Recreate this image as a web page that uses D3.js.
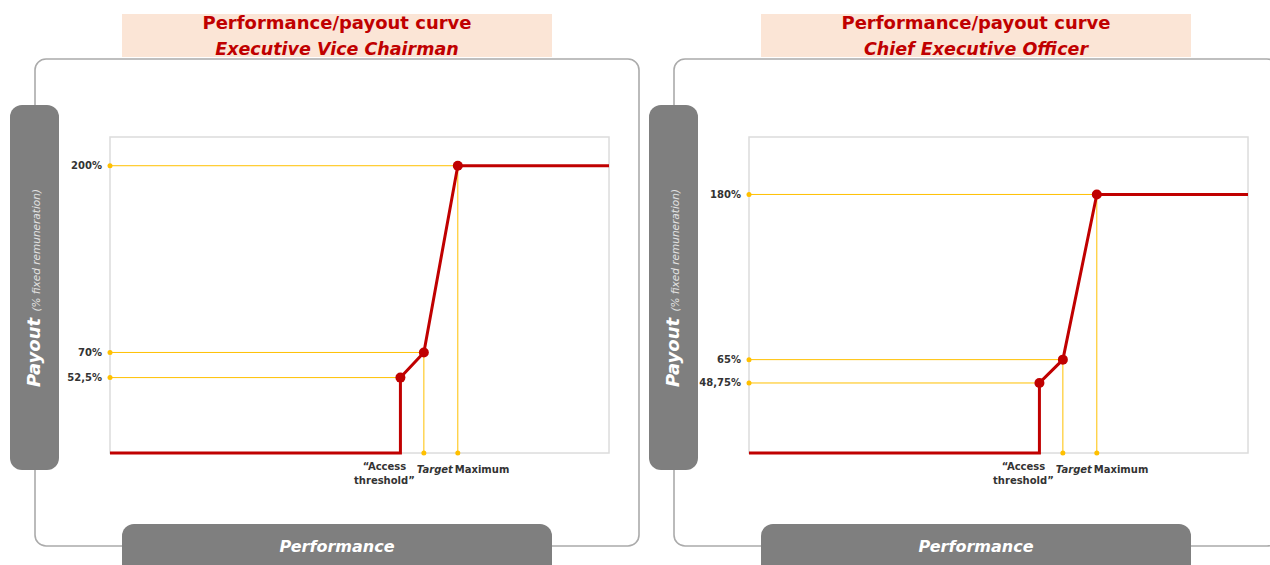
<!DOCTYPE html>
<html>
<head>
<meta charset="utf-8">
<script src="https://cdn.jsdelivr.net/npm/d3@7"></script>
<style>
  body { margin: 0; background: #fff; }
  svg { display: block; font-family: "DejaVu Sans", Verdana, sans-serif; }
</style>
</head>
<body>
<svg id="chart" width="1270" height="565"></svg>
<script>
// data
const chartTitle = "Performance/payout curve";
const roles = ["Executive Vice Chairman", "Chief Executive Officer"];
const levelNames = ["Access threshold", "Target", "Maximum"];
// performance position of each level, % of the horizontal range
const performanceLevels = [58.2, 62.9, 69.7];
// payout (% fixed remuneration) at threshold, target, maximum
const evcPayout = [52.5, 70, 200];
const ceoPayout = [48.75, 65, 180];
const evcTickLabels = ["52,5%", "70%", "200%"];
const ceoTickLabels = ["48,75%", "65%", "180%"];

const svg = d3.select("#chart");

const red = "#c00000";
const gold = "#ffc000";
const pillGrey = "#7f7f7f";

const panels = [
  { x0: 0, role: roles[0], payout: evcPayout, ticks: evcTickLabels },
  { x0: 639, role: roles[1], payout: ceoPayout, ticks: ceoTickLabels },
];

panels.forEach((p) => drawPanel(p));

function drawPanel(p) {
  const g = svg.append("g").attr("transform", `translate(${p.x0},0)`);

  // outer frame
  g.append("rect")
    .attr("x", 35)
    .attr("y", 59)
    .attr("width", 604)
    .attr("height", 487)
    .attr("rx", 11)
    .attr("fill", "none")
    .attr("stroke", "#ababab")
    .attr("stroke-width", 1.6);

  // title box
  g.append("rect")
    .attr("x", 122)
    .attr("y", 14)
    .attr("width", 430)
    .attr("height", 43)
    .attr("fill", "#fbe5d6");

  g.append("text")
    .attr("x", 337)
    .attr("y", 29)
    .attr("text-anchor", "middle")
    .attr("font-size", "18px")
    .attr("font-weight", "bold")
    .attr("fill", red)
    .text(chartTitle);

  g.append("text")
    .attr("x", 337)
    .attr("y", 55)
    .attr("text-anchor", "middle")
    .attr("font-size", "17.5px")
    .attr("font-weight", "bold")
    .attr("font-style", "italic")
    .attr("fill", red)
    .text(p.role);

  // payout pill
  g.append("rect")
    .attr("x", 10)
    .attr("y", 105)
    .attr("width", 49)
    .attr("height", 365)
    .attr("rx", 12)
    .attr("fill", pillGrey);

  const ylab = g.append("text")
    .attr("transform", "translate(40,288) rotate(-90)")
    .attr("text-anchor", "middle")
    .attr("fill", "#fff")
    .attr("font-style", "italic");
  ylab.append("tspan").attr("font-size", "18px").attr("font-weight", "bold").text("Payout ");
  ylab.append("tspan").attr("font-size", "10.5px").attr("fill", "#e2e2e2").text("(% fixed remuneration)");

  // performance pill
  g.append("rect")
    .attr("x", 122)
    .attr("y", 524)
    .attr("width", 430)
    .attr("height", 60)
    .attr("rx", 12)
    .attr("fill", pillGrey);

  g.append("text")
    .attr("x", 337)
    .attr("y", 552)
    .attr("text-anchor", "middle")
    .attr("font-size", "16px")
    .attr("font-weight", "bold")
    .attr("font-style", "italic")
    .attr("fill", "#fff")
    .text("Performance");

  // plot area
  const left = 110;
  const right = 609;
  const top = 137;
  const bottom = 453;

  const x = d3.scaleLinear().domain([0, 100]).range([left, right]);
  const y = d3.scaleLinear().domain([0, 220]).range([bottom, top]);

  g.append("rect")
    .attr("x", left)
    .attr("y", top)
    .attr("width", right - left)
    .attr("height", bottom - top)
    .attr("fill", "none")
    .attr("stroke", "#dcdcdc")
    .attr("stroke-width", 1.5);

  const pts = performanceLevels.map((perf, i) => ({
    perf,
    pay: p.payout[i],
    tick: p.ticks[i],
    name: levelNames[i],
  }));

  // horizontal guides
  g.selectAll(".hguide")
    .data(pts)
    .enter()
    .append("line")
    .attr("x1", left)
    .attr("x2", (d) => x(d.perf))
    .attr("y1", (d) => y(d.pay))
    .attr("y2", (d) => y(d.pay))
    .attr("stroke", gold)
    .attr("stroke-width", 1);

  // vertical guides for target and maximum
  g.selectAll(".vguide")
    .data(pts.slice(1))
    .enter()
    .append("line")
    .attr("x1", (d) => x(d.perf))
    .attr("x2", (d) => x(d.perf))
    .attr("y1", (d) => y(d.pay))
    .attr("y2", y(0))
    .attr("stroke", gold)
    .attr("stroke-width", 1);

  g.selectAll(".ydot")
    .data(pts)
    .enter()
    .append("circle")
    .attr("cx", left)
    .attr("cy", (d) => y(d.pay))
    .attr("r", 2.5)
    .attr("fill", gold);

  g.selectAll(".xdot")
    .data(pts.slice(1))
    .enter()
    .append("circle")
    .attr("cx", (d) => x(d.perf))
    .attr("cy", y(0))
    .attr("r", 2.5)
    .attr("fill", gold);

  // payout curve
  const curve = [
    [0, 0],
    [pts[0].perf, 0],
    ...pts.map((d) => [d.perf, d.pay]),
    [100, pts[2].pay],
  ];

  g.append("path")
    .datum(curve)
    .attr("fill", "none")
    .attr("stroke", red)
    .attr("stroke-width", 3)
    .attr("d", d3.line().x((d) => x(d[0])).y((d) => y(d[1])));

  g.selectAll(".pt")
    .data(pts)
    .enter()
    .append("circle")
    .attr("cx", (d) => x(d.perf))
    .attr("cy", (d) => y(d.pay))
    .attr("r", 5)
    .attr("fill", red);

  // y tick labels
  g.selectAll(".ytick")
    .data(pts)
    .enter()
    .append("text")
    .attr("x", left - 8)
    .attr("y", (d) => y(d.pay))
    .attr("dy", "0.35em")
    .attr("text-anchor", "end")
    .attr("font-size", "10px")
    .attr("font-weight", "bold")
    .attr("fill", "#333")
    .text((d) => d.tick);

  // x labels
  const xa = x(pts[0].perf) - 16;
  const acc = g.append("text")
    .attr("text-anchor", "middle")
    .attr("font-size", "10px")
    .attr("font-weight", "bold")
    .attr("fill", "#333");
  acc.append("tspan").attr("x", xa).attr("y", 470).text("\u201cAccess");
  acc.append("tspan").attr("x", xa).attr("y", 484).text("threshold\u201d");

  g.append("text")
    .attr("x", x(pts[1].perf) - 7)
    .attr("y", 473)
    .attr("font-size", "10px")
    .attr("font-weight", "bold")
    .attr("font-style", "italic")
    .attr("fill", "#333")
    .text(pts[1].name);

  g.append("text")
    .attr("x", x(pts[2].perf) - 3)
    .attr("y", 473)
    .attr("font-size", "10px")
    .attr("font-weight", "bold")
    .attr("fill", "#333")
    .text(pts[2].name);
}
</script>
</body>
</html>
